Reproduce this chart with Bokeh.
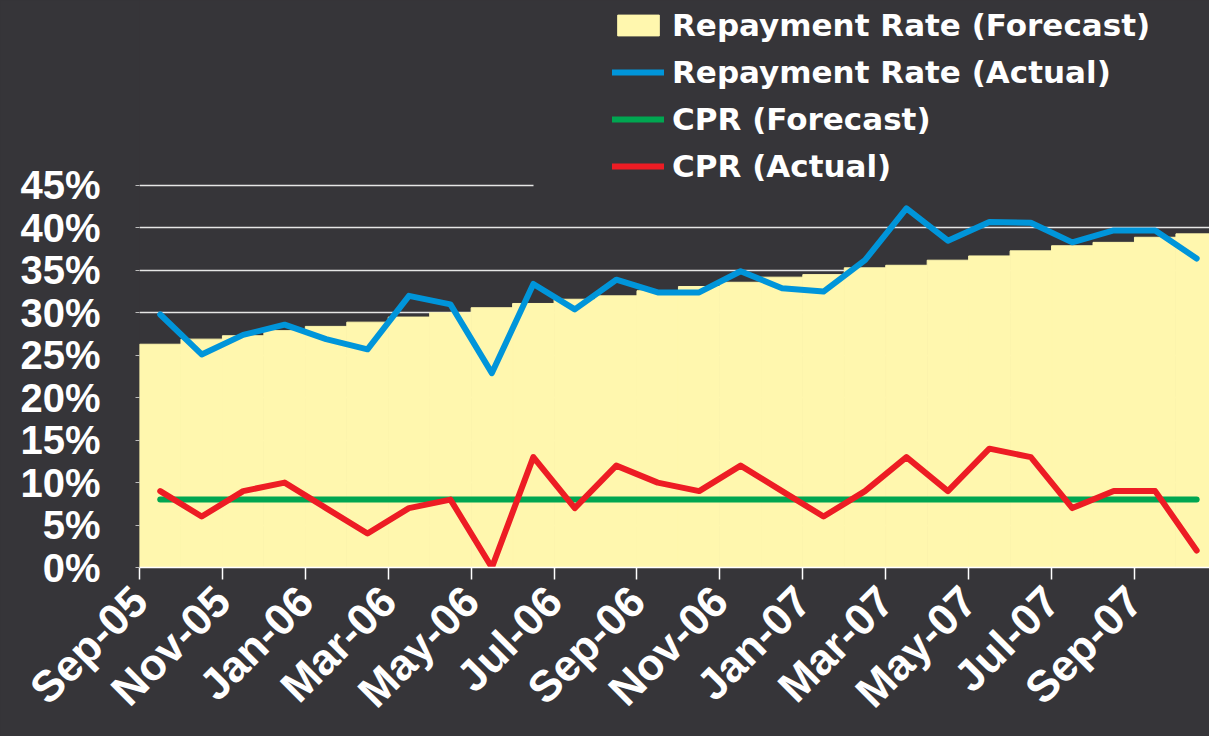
import math
from bokeh.plotting import figure
from bokeh.models import (FixedTicker, PrintfTickFormatter, Legend, LegendItem,
                          Grid, Range1d, ColumnDataSource)
from bokeh.embed import file_html
from bokeh.resources import INLINE

# ---- data (percent) ----
months = ["Sep-05", "Oct-05", "Nov-05", "Dec-05", "Jan-06", "Feb-06", "Mar-06",
          "Apr-06", "May-06", "Jun-06", "Jul-06", "Aug-06", "Sep-06", "Oct-06",
          "Nov-06", "Dec-06", "Jan-07", "Feb-07", "Mar-07", "Apr-07", "May-07",
          "Jun-07", "Jul-07", "Aug-07", "Sep-07", "Oct-07"]
repay_forecast = [26.3, 26.9, 27.3, 27.9, 28.4, 28.9, 29.5, 30.0, 30.6, 31.1,
                  31.6, 32.0, 32.6, 33.1, 33.6, 34.2, 34.5, 35.3, 35.6, 36.2,
                  36.7, 37.3, 37.9, 38.3, 38.9, 39.3]
repay_actual = [29.8, 25.1, 27.4, 28.6, 26.9, 25.7, 32.0, 31.0, 22.9, 33.4,
                30.4, 33.9, 32.4, 32.4, 34.9, 32.9, 32.5, 36.2, 42.3, 38.5,
                40.7, 40.6, 38.3, 39.7, 39.7, 36.4]
cpr_forecast = [8, 8, 8, 8, 8, 8, 8, 8, 8, 8, 8, 8, 8, 8, 8, 8, 8, 8, 8, 8,
                8, 8, 8, 8, 8, 8]
cpr_actual = [9, 6, 9, 10, 7, 4, 7, 8, 0, 13, 7, 12, 10, 9, 12, 9, 6, 9, 13, 9,
              14, 13, 7, 9, 9, 2]
y_ticks = [0, 5, 10, 15, 20, 25, 30, 35, 40, 45]

BG = "#363539"
YELLOW = "#FFF7AE"
BLUE = "#0095DA"
GREEN = "#00A651"
RED = "#ED1C24"

idx = list(range(len(months)))
src = ColumnDataSource(dict(x=idx, months=months, rf=repay_forecast,
                            ra=repay_actual, cf=cpr_forecast, ca=cpr_actual))

p = figure(width=1209, height=736, x_range=Range1d(-0.5, 25.31),
           y_range=Range1d(0, 66.79), output_backend="svg",
           toolbar_location=None, title=None,
           min_border_left=139, min_border_right=0, min_border_top=0,
           min_border_bottom=169,
           background_fill_color=BG, border_fill_color=BG,
           outline_line_color=None)

r_area = p.vbar(x="x", top="rf", width=1.0, bottom=0, source=src,
                fill_color=YELLOW, line_color=YELLOW, line_width=1)
r_blue = p.line("x", "ra", source=src, line_color=BLUE, line_width=6,
                line_join="round", line_cap="round")
r_green = p.line("x", "cf", source=src, line_color=GREEN, line_width=6,
                 line_join="round", line_cap="round")
r_red = p.line("x", "ca", source=src, line_color=RED, line_width=6,
               line_join="round", line_cap="round")

# grids
p.xgrid.visible = False
p.ygrid.ticker = FixedTicker(ticks=y_ticks[1:-1])
p.ygrid.grid_line_color = "#e6e6e6"
p.ygrid.grid_line_width = 1.5
top_grid = Grid(dimension=1, ticker=FixedTicker(ticks=[y_ticks[-1]]),
                cross_bounds=(-0.5, 9.0), grid_line_color="#e6e6e6",
                grid_line_width=1.5)
p.add_layout(top_grid)

# y axis
ya = p.yaxis[0]
ya.ticker = FixedTicker(ticks=y_ticks)
ya.formatter = PrintfTickFormatter(format="%d%%")
ya.axis_line_color = None
ya.major_tick_out = 4
ya.major_tick_in = 0
ya.major_tick_line_color = "#bbbbbb"
ya.minor_tick_line_color = None
ya.major_label_text_font = "Liberation Sans"
ya.major_label_text_font_style = "bold"
ya.major_label_text_font_size = "40px"
ya.major_label_text_color = "white"
ya.major_label_standoff = 35

# x axis
tick_pos = [i - 0.5 for i in idx[::2]]
xa = p.xaxis[0]
xa.ticker = FixedTicker(ticks=tick_pos)
xa.major_label_overrides = {t: months[i] for t, i in zip(tick_pos, idx[::2])}
xa.major_label_orientation = math.pi / 4
xa.axis_line_color = "white"
xa.axis_line_width = 1.5
xa.major_tick_out = 12
xa.major_tick_in = 0
xa.major_tick_line_color = "white"
xa.major_tick_line_width = 1.5
xa.minor_tick_line_color = None
xa.major_label_text_font = "Liberation Sans"
xa.major_label_text_font_style = "bold"
xa.major_label_text_font_size = "44px"
xa.major_label_text_color = "white"
xa.major_label_standoff = 14

legend = Legend(items=[
    LegendItem(label="Repayment Rate (Forecast)", renderers=[r_area]),
    LegendItem(label="Repayment Rate (Actual)", renderers=[r_blue]),
    LegendItem(label="CPR (Forecast)", renderers=[r_green]),
    LegendItem(label="CPR (Actual)", renderers=[r_red]),
], location=(473, 381), orientation="vertical",
    background_fill_alpha=0, border_line_color=None, padding=0, margin=0,
    glyph_width=52, glyph_height=26, label_standoff=8, spacing=7,
    label_height=40,
    label_text_font="DejaVu Sans", label_text_font_style="bold",
    label_text_font_size="31px", label_text_color="white")
p.add_layout(legend)

html = file_html(p, INLINE)
html = html.replace("</head>", "<style>html,body{background:%s;}</style></head>" % BG, 1)
open("out.html", "w").write(html)
